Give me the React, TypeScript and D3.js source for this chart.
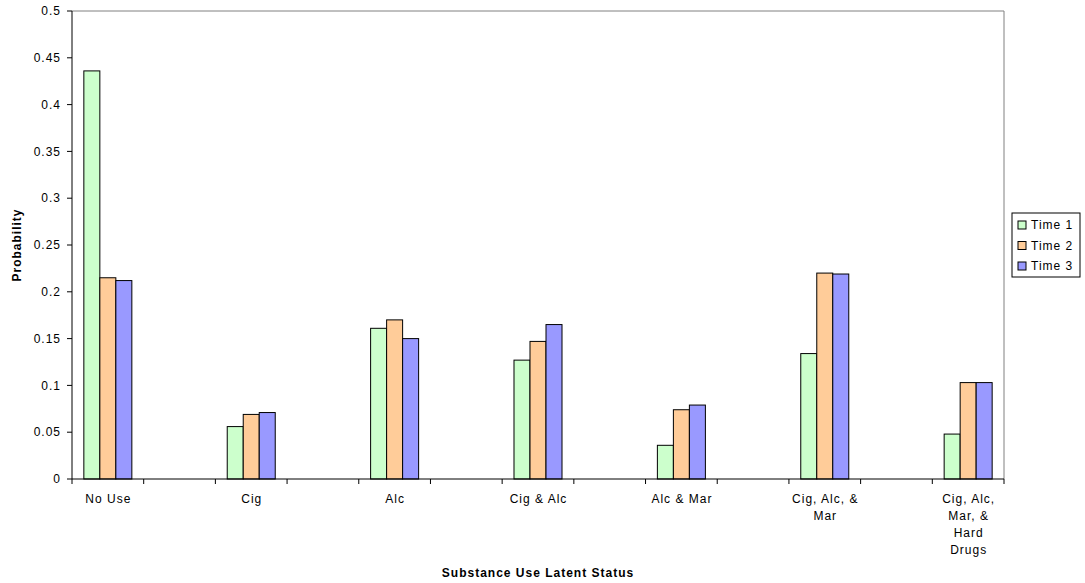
import React from "react";
import * as d3 from "d3";

const categories: string[][] = [
  ["No Use"],
  ["Cig"],
  ["Alc"],
  ["Cig & Alc"],
  ["Alc & Mar"],
  ["Cig, Alc, &", "Mar"],
  ["Cig, Alc,", "Mar, &", "Hard", "Drugs"],
];
const seriesNames = ["Time 1", "Time 2", "Time 3"];
const time1 = [0.436, 0.056, 0.161, 0.127, 0.036, 0.134, 0.048];
const time2 = [0.215, 0.069, 0.17, 0.147, 0.074, 0.22, 0.103];
const time3 = [0.212, 0.071, 0.15, 0.165, 0.079, 0.219, 0.103];
const yTicks = [0, 0.05, 0.1, 0.15, 0.2, 0.25, 0.3, 0.35, 0.4, 0.45, 0.5];
const colors = ["#CCFFCC", "#FFCC99", "#9999FF"];

const W = 1085;
const H = 583;
const left = 72;
const right = 1004;
const top = 11;
const bottom = 479;
const FONT = "Arial, 'Liberation Sans', sans-serif";
const LS = 1;

export default function App() {
  const series = [time1, time2, time3];
  const nSlots = categories.length * 2 - 1;
  const x = d3.scaleBand<number>().domain(d3.range(nSlots)).range([left, right]).paddingInner(0).paddingOuter(0);
  const slot = x.bandwidth();
  const inner = d3
    .scaleBand<number>()
    .domain(d3.range(series.length))
    .range([0, slot])
    .paddingInner(0)
    .paddingOuter(0.74);
  const y = d3.scaleLinear().domain([0, 0.5]).range([bottom, top]);

  const tickPositions = d3.range(nSlots + 1).map((i) => left + i * slot);

  return (
    <svg
      width={W}
      height={H}
      style={{ position: "absolute", left: 0, top: 0, background: "#fff" }}
      fontFamily={FONT}
      letterSpacing={LS}
    >
      {/* plot border top/right */}
      <line x1={left} x2={right} y1={top} y2={top} stroke="#808080" />
      <line x1={right} x2={right} y1={top} y2={bottom} stroke="#808080" />

      {/* bars */}
      {categories.map((_, ci) =>
        series.map((s, si) => {
          const x0 = (x(ci * 2) as number) + (inner(si) as number);
          return (
            <rect
              key={`${ci}-${si}`}
              x={x0}
              y={y(s[ci])}
              width={inner.bandwidth()}
              height={bottom - y(s[ci])}
              fill={colors[si]}
              stroke="#000"
              strokeWidth={1}
            />
          );
        })
      )}

      {/* y axis */}
      <line x1={left} x2={left} y1={top} y2={bottom} stroke="#000" />
      {yTicks.map((t) => (
        <g key={t}>
          <line x1={left - 5} x2={left} y1={y(t)} y2={y(t)} stroke="#000" />
          <text x={left - 11} y={y(t)} dy="0.35em" textAnchor="end" fontSize={12} fill="#000">
            {String(t)}
          </text>
        </g>
      ))}

      {/* x axis */}
      <line x1={left} x2={right} y1={bottom} y2={bottom} stroke="#000" />
      {tickPositions.map((p, i) => (
        <line key={i} x1={p} x2={p} y1={bottom} y2={bottom + 5} stroke="#000" />
      ))}
      {categories.map((lines, ci) => {
        const cx = (x(ci * 2) as number) + slot / 2 + LS / 2;
        return (
          <text key={ci} x={cx} y={503} textAnchor="middle" fontSize={12} fill="#000">
            {lines.map((l, li) => (
              <tspan key={li} x={cx} dy={li === 0 ? 0 : 17}>
                {l}
              </tspan>
            ))}
          </text>
        );
      })}

      {/* axis titles */}
      <text x={538} y={577} textAnchor="middle" fontSize={12} fontWeight="bold" fill="#000">
        Substance Use Latent Status
      </text>
      <text
        transform={`translate(21,${(top + bottom) / 2}) rotate(-90)`}
        textAnchor="middle"
        fontSize={12}
        fontWeight="bold"
        fill="#000"
      >
        Probability
      </text>

      {/* legend */}
      <rect x={1012} y={213} width={68} height={64} fill="#fff" stroke="#000" />
      {seriesNames.map((name, i) => (
        <g key={name}>
          <rect x={1018} y={221 + i * 20.5} width={8} height={8} fill={colors[i]} stroke="#000" />
          <text x={1031} y={225 + i * 20.5} dy="0.35em" fontSize={12} fill="#000">
            {name}
          </text>
        </g>
      ))}
    </svg>
  );
}
